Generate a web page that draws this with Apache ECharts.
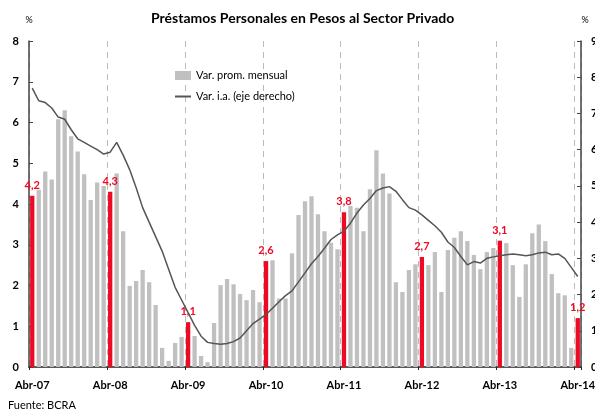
<!DOCTYPE html>
<html>
<head>
<meta charset="utf-8">
<script src="https://cdn.jsdelivr.net/npm/echarts@6/dist/echarts.min.js"></script>
<style>
  html, body { margin: 0; padding: 0; background: #fff; }
  #chart { width: 595px; height: 412px; }
</style>
</head>
<body>
<div id="chart"></div>
<script>
const meses = ['Abr', 'May', 'Jun', 'Jul', 'Ago', 'Sep', 'Oct', 'Nov', 'Dic', 'Ene', 'Feb', 'Mar']

// variacion promedio mensual (%), abr-07 a abr-14
const varMensual = [
  4.2, 4.35, 4.8, 4.6, 6.08, 6.3, 5.66, 5.29, 4.73, 4.1, 4.53, 4.44,
  4.3, 4.75, 3.33, 1.99, 2.11, 2.38, 2.08, 1.52, 0.47, 0.15, 0.59, 0.74,
  1.1, 0.76, 0.27, 0.12, 1.08, 2.01, 2.16, 2.03, 1.79, 1.64, 1.89, 1.59,
  2.6, 2.62, 1.68, 1.68, 2.79, 3.73, 4.07, 4.19, 3.75, 3.33, 3.05, 2.89,
  3.8, 3.95, 3.91, 3.33, 4.36, 5.32, 4.75, 4.26, 2.08, 1.84, 2.38, 2.52,
  2.7, 2.5, 2.82, 1.84, 2.87, 3.17, 3.33, 3.09, 2.75, 2.4, 2.82, 2.92,
  3.1, 3.04, 2.5, 1.72, 2.52, 3.28, 3.5, 3.09, 2.28, 1.81, 1.76, 0.47,
  1.2
]

// variacion interanual (%), eje derecho
const varInteranual = [
  7.7, 7.35, 7.3, 7.15, 6.9, 6.84, 6.55, 6.3, 6.2, 6.1, 6.0, 5.88,
  5.93, 6.2, 5.85, 5.45, 4.95, 4.4, 4.0, 3.6, 3.2, 2.7, 2.2, 1.85,
  1.5, 1.15, 0.85, 0.68, 0.65, 0.63, 0.65, 0.7, 0.8, 1.0, 1.2, 1.32,
  1.45, 1.62, 1.8, 1.97, 2.1, 2.35, 2.6, 2.85, 3.05, 3.28, 3.52, 3.65,
  3.75, 3.97, 4.25, 4.47, 4.65, 4.87, 4.94, 4.98, 4.85, 4.62, 4.4, 4.33,
  4.2, 4.05, 3.9, 3.72, 3.45, 3.3, 3.05, 2.82, 2.91, 2.87, 3.0, 3.04,
  3.07, 3.1, 3.12, 3.1, 3.07, 3.1, 3.15, 3.17, 3.1, 3.12, 3.0, 2.75,
  2.5
]

let categorias = []
for (let i = 0; i < varMensual.length; i++) {
  const anio = 7 + Math.floor((i + 3) / 12)
  categorias.push(meses[i % 12] + '-' + String(anio).padStart(2, '0'))
}

const gris = '#c0c0c0'
const rojo = '#ee0a24'
const fuente = 'Lato, "Open Sans", sans-serif'

const barData = varMensual.map((v, i) => {
  if (categorias[i].startsWith('Abr')) {
    return { value: v, itemStyle: { color: rojo }, label: { show: true } }
  }
  return v
})

const chart = echarts.init(document.getElementById('chart'))

const option = {
  animation: false,
  textStyle: { fontFamily: fuente },
  title: {
    text: 'Préstamos Personales en Pesos al Sector Privado',
    left: 151,
    top: 11,
    padding: 0,
    textStyle: { fontSize: 14, fontWeight: 'bold', color: '#000', fontFamily: fuente }
  },
  graphic: [
    {
      type: 'text',
      left: 8,
      top: 400,
      style: { text: 'Fuente: BCRA', font: '11px ' + fuente, fill: '#000' }
    }
  ],
  legend: {
    orient: 'vertical',
    left: 169,
    top: 65,
    itemGap: 10,
    itemWidth: 16,
    itemHeight: 9,
    textStyle: { fontSize: 11, color: '#000', fontFamily: fuente },
    data: [
      { name: 'Var. prom. mensual', icon: 'rect' },
      { name: 'Var. i.a. (eje derecho)', itemStyle: { opacity: 0 } }
    ]
  },
  grid: {
    left: 29,
    right: 14,
    top: 41,
    bottom: 45,
    containLabel: false,
    outerBoundsMode: 'none'
  },
  xAxis: {
    type: 'category',
    data: categorias,
    boundaryGap: true,
    axisLine: { lineStyle: { color: '#222', width: 1.5 } },
    axisTick: { show: true, interval: 11, length: 3, lineStyle: { color: '#222' } },
    axisLabel: {
      interval: 11,
      margin: 13,
      fontSize: 11,
      fontWeight: 'bold',
      color: '#000',
      fontFamily: fuente
    },
    splitLine: {
      show: true,
      interval: 11,
      lineStyle: { color: '#bbb', type: [6, 5], width: 1 }
    }
  },
  yAxis: [
    {
      type: 'value',
      min: 0,
      max: 8,
      interval: 1,
      name: '%',
      nameLocation: 'end',
      nameGap: 16,
      nameTextStyle: { fontSize: 9, color: '#000', fontFamily: fuente },
      axisLine: { show: true, lineStyle: { color: '#444', width: 1.5 } },
      axisTick: { show: true, inside: true, length: 4, lineStyle: { color: '#444' } },
      axisLabel: { margin: 10, fontSize: 11, fontWeight: 'bold', color: '#000', fontFamily: fuente },
      splitLine: { show: false }
    },
    {
      type: 'value',
      min: 0,
      max: 9,
      interval: 1,
      name: '%',
      nameLocation: 'end',
      nameGap: 16,
      nameTextStyle: { fontSize: 9, color: '#000', fontFamily: fuente, padding: [0, 0, 0, 8] },
      axisLine: { show: true, lineStyle: { color: '#444', width: 1.5 } },
      axisTick: { show: true, inside: true, length: 4, lineStyle: { color: '#444' } },
      axisLabel: { margin: 10, fontSize: 11, fontWeight: 'bold', color: '#000', fontFamily: fuente },
      splitLine: { show: false }
    }
  ],
  series: [
    {
      name: 'Var. prom. mensual',
      type: 'bar',
      data: barData,
      barCategoryGap: '34%',
      itemStyle: { color: gris },
      label: {
        show: false,
        position: 'top',
        distance: 5,
        color: rojo,
        fontSize: 11,
        fontWeight: 'bold',
        fontFamily: fuente,
        formatter: p => String(p.value).replace('.', ',')
      }
    },
    {
      name: 'Var. i.a. (eje derecho)',
      type: 'line',
      yAxisIndex: 1,
      data: varInteranual,
      symbol: 'none',
      itemStyle: { color: '#555' },
      lineStyle: { color: '#555', width: 1.5 }
    }
  ]
}

chart.setOption(option)
</script>
</body>
</html>
